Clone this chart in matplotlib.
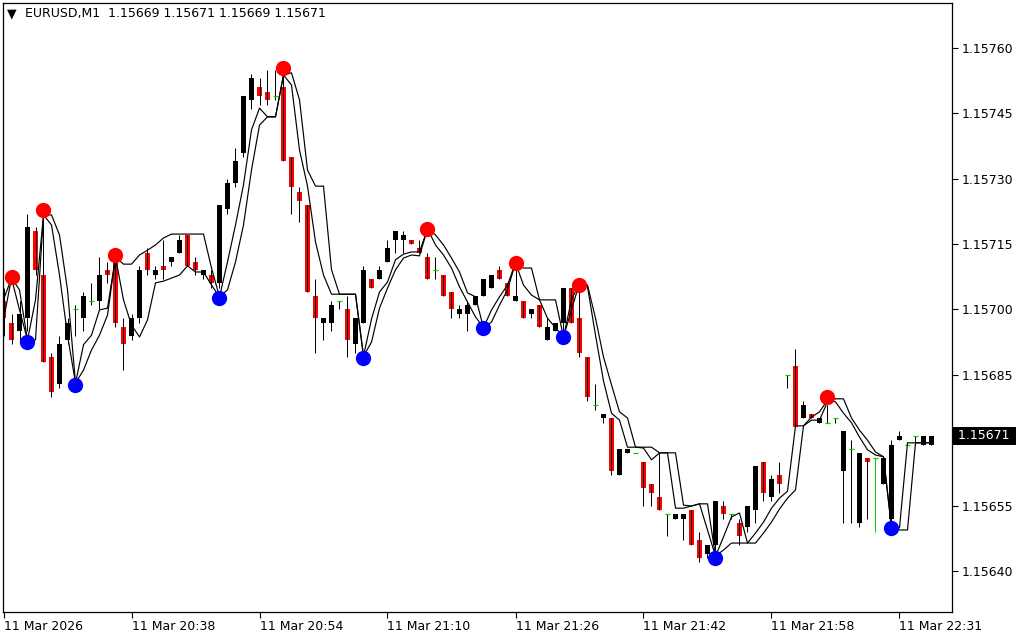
import matplotlib
matplotlib.use("Agg")
import matplotlib.pyplot as plt
from matplotlib.transforms import blended_transform_factory

# ---------------- data (EURUSD M1) ----------------
opens = [1.15702, 1.15697, 1.15695, 1.15698, 1.15718, 1.15708, 1.15689, 1.15683, 1.15693, 1.15700,
         1.15698, 1.15702, 1.15702, 1.15709, 1.15711, 1.15696, 1.15694, 1.15698, 1.15713, 1.15708,
         1.15710, 1.15711, 1.15713, 1.15717, 1.15711, 1.15708, 1.15708, 1.15706, 1.15723, 1.15729,
         1.15736, 1.15748, 1.15751, 1.15750, 1.15749, 1.15751, 1.15735, 1.15727, 1.15724, 1.15703,
         1.15697, 1.15697, 1.15702, 1.15700, 1.15692, 1.15697, 1.15707, 1.15707, 1.15711, 1.15716,
         1.15716, 1.15716, 1.15714, 1.15712, 1.15709, 1.15708, 1.15704, 1.15699, 1.15699, 1.15701,
         1.15703, 1.15705, 1.15709, 1.15706, 1.15702, 1.15702, 1.15699, 1.15701, 1.15693, 1.15695,
         1.15697, 1.15705, 1.15698, 1.15689, 1.15678, 1.15675, 1.15675, 1.15662, 1.15667, 1.15667,
         1.15665, 1.15660, 1.15657, 1.15653, 1.15652, 1.15652, 1.15654, 1.15647, 1.15644, 1.15646,
         1.15655, 1.15653, 1.15651, 1.15650, 1.15654, 1.15665, 1.15657, 1.15662, 1.15685, 1.15687,
         1.15675, 1.15676, 1.15674, 1.15674, 1.15675, 1.15663, 1.15668, 1.15651, 1.15666, 1.15666,
         1.15660, 1.15652, 1.15670, 1.15669, 1.15671, 1.15669, 1.15669]
highs = [1.15705, 1.15699, 1.15702, 1.15722, 1.15719, 1.15721, 1.15690, 1.15694, 1.15698, 1.15701,
         1.15704, 1.15706, 1.15712, 1.15711, 1.15712, 1.15698, 1.15699, 1.15710, 1.15714, 1.15710,
         1.15716, 1.15712, 1.15717, 1.15717, 1.15712, 1.15709, 1.15709, 1.15724, 1.15730, 1.15737,
         1.15749, 1.15754, 1.15753, 1.15755, 1.15755, 1.15754, 1.15735, 1.15728, 1.15724, 1.15707,
         1.15698, 1.15702, 1.15702, 1.15703, 1.15698, 1.15710, 1.15707, 1.15710, 1.15716, 1.15718,
         1.15718, 1.15716, 1.15716, 1.15713, 1.15712, 1.15708, 1.15704, 1.15701, 1.15702, 1.15703,
         1.15707, 1.15708, 1.15710, 1.15706, 1.15709, 1.15702, 1.15700, 1.15701, 1.15698, 1.15697,
         1.15705, 1.15705, 1.15704, 1.15689, 1.15683, 1.15676, 1.15675, 1.15668, 1.15668, 1.15667,
         1.15665, 1.15660, 1.15667, 1.15653, 1.15653, 1.15653, 1.15654, 1.15649, 1.15646, 1.15656,
         1.15656, 1.15653, 1.15652, 1.15655, 1.15664, 1.15665, 1.15662, 1.15665, 1.15685, 1.15691,
         1.15679, 1.15676, 1.15675, 1.15678, 1.15675, 1.15672, 1.15670, 1.15667, 1.15666, 1.15666,
         1.15666, 1.15670, 1.15672, 1.15669, 1.15671, 1.15671, 1.15671]
lows = [1.15694, 1.15692, 1.15693, 1.15695, 1.15708, 1.15688, 1.15680, 1.15682, 1.15692, 1.15694,
        1.15695, 1.15701, 1.15700, 1.15706, 1.15696, 1.15686, 1.15693, 1.15697, 1.15708, 1.15707,
        1.15707, 1.15710, 1.15713, 1.15710, 1.15708, 1.15707, 1.15705, 1.15705, 1.15722, 1.15728,
        1.15735, 1.15746, 1.15747, 1.15747, 1.15748, 1.15734, 1.15722, 1.15720, 1.15704, 1.15690,
        1.15693, 1.15695, 1.15700, 1.15689, 1.15690, 1.15697, 1.15705, 1.15707, 1.15711, 1.15713,
        1.15713, 1.15715, 1.15713, 1.15707, 1.15707, 1.15703, 1.15698, 1.15698, 1.15695, 1.15701,
        1.15703, 1.15705, 1.15707, 1.15703, 1.15702, 1.15698, 1.15698, 1.15696, 1.15693, 1.15695,
        1.15693, 1.15697, 1.15689, 1.15679, 1.15677, 1.15674, 1.15662, 1.15662, 1.15667, 1.15667,
        1.15655, 1.15655, 1.15654, 1.15648, 1.15652, 1.15647, 1.15646, 1.15642, 1.15643, 1.15643,
        1.15652, 1.15652, 1.15646, 1.15649, 1.15651, 1.15656, 1.15656, 1.15658, 1.15682, 1.15673,
        1.15675, 1.15675, 1.15674, 1.15674, 1.15674, 1.15651, 1.15651, 1.15650, 1.15652, 1.15649,
        1.15660, 1.15650, 1.15670, 1.15669, 1.15669, 1.15669, 1.15669]
closes = [1.15698, 1.15693, 1.15699, 1.15719, 1.15709, 1.15688, 1.15681, 1.15692, 1.15697, 1.15700,
          1.15703, 1.15702, 1.15708, 1.15708, 1.15697, 1.15692, 1.15698, 1.15709, 1.15709, 1.15709,
          1.15709, 1.15712, 1.15716, 1.15710, 1.15709, 1.15709, 1.15706, 1.15724, 1.15729, 1.15734,
          1.15749, 1.15753, 1.15749, 1.15748, 1.15749, 1.15734, 1.15728, 1.15725, 1.15704, 1.15698,
          1.15698, 1.15701, 1.15702, 1.15693, 1.15698, 1.15709, 1.15705, 1.15709, 1.15714, 1.15718,
          1.15717, 1.15715, 1.15713, 1.15707, 1.15709, 1.15703, 1.15700, 1.15700, 1.15701, 1.15703,
          1.15707, 1.15708, 1.15707, 1.15703, 1.15703, 1.15698, 1.15700, 1.15696, 1.15696, 1.15697,
          1.15705, 1.15697, 1.15690, 1.15680, 1.15678, 1.15676, 1.15663, 1.15668, 1.15668, 1.15667,
          1.15659, 1.15658, 1.15654, 1.15653, 1.15653, 1.15653, 1.15646, 1.15643, 1.15646, 1.15656,
          1.15653, 1.15653, 1.15648, 1.15655, 1.15664, 1.15658, 1.15661, 1.15660, 1.15685, 1.15673,
          1.15678, 1.15675, 1.15675, 1.15674, 1.15675, 1.15672, 1.15668, 1.15667, 1.15665, 1.15666,
          1.15666, 1.15669, 1.15671, 1.15669, 1.15671, 1.15671, 1.15671]

# indicator channel lines (two black lines)
line_a = [1.157022, 1.157072, 1.156999, 1.156930, 1.157022, 1.157217, 1.157194, 1.157079, 1.156941, 1.156831,
          1.156919, 1.156941, 1.156999, 1.157003, 1.157120, 1.157104, 1.157104, 1.157125, 1.157136, 1.157148,
          1.157164, 1.157173, 1.157173, 1.157173, 1.157173, 1.157173, 1.157095, 1.157029, 1.157109, 1.157194,
          1.157286, 1.157412, 1.157462, 1.157442, 1.157442, 1.157538, 1.157515, 1.157366, 1.157283, 1.157155,
          1.157079, 1.157035, 1.157035, 1.157035, 1.157035, 1.156893, 1.156978, 1.157040, 1.157063, 1.157114,
          1.157127, 1.157132, 1.157132, 1.157185, 1.157148, 1.157125, 1.157095, 1.157052, 1.157017, 1.156983,
          1.156958, 1.156999, 1.157029, 1.157056, 1.157107, 1.157056, 1.157033, 1.157022, 1.156980, 1.156958,
          1.156937, 1.157022, 1.157061, 1.157052, 1.156941, 1.156836, 1.156762, 1.156746, 1.156684, 1.156684,
          1.156684, 1.156684, 1.156671, 1.156671, 1.156544, 1.156544, 1.156549, 1.156554, 1.156494, 1.156434,
          1.156478, 1.156524, 1.156533, 1.156464, 1.156487, 1.156512, 1.156544, 1.156567, 1.156583, 1.156733,
          1.156733, 1.156753, 1.156765, 1.156792, 1.156788, 1.156762, 1.156740, 1.156707, 1.156678, 1.156666,
          1.156662, 1.156499, 1.156499, 1.156694, 1.156694, 1.156694, 1.156694]
line_b = [1.156976, 1.157072, 1.157045, 1.156930, 1.156930, 1.157217, 1.157217, 1.157171, 1.157045, 1.156831,
          1.156861, 1.156907, 1.156941, 1.156987, 1.157120, 1.157022, 1.156964, 1.156937, 1.156976, 1.157061,
          1.157065, 1.157072, 1.157079, 1.157100, 1.157086, 1.157086, 1.157056, 1.157029, 1.157045, 1.157109,
          1.157194, 1.157320, 1.157423, 1.157442, 1.157442, 1.157538, 1.157543, 1.157481, 1.157320, 1.157283,
          1.157283, 1.157091, 1.157035, 1.157035, 1.157035, 1.156893, 1.156925, 1.157003, 1.157049, 1.157091,
          1.157118, 1.157125, 1.157123, 1.157185, 1.157171, 1.157148, 1.157118, 1.157086, 1.157038, 1.157029,
          1.156958, 1.156971, 1.157010, 1.157045, 1.157107, 1.157095, 1.157095, 1.157022, 1.157022, 1.157022,
          1.156937, 1.156999, 1.157061, 1.157056, 1.156980, 1.156891, 1.156827, 1.156765, 1.156751, 1.156684,
          1.156682, 1.156655, 1.156671, 1.156671, 1.156671, 1.156551, 1.156549, 1.156554, 1.156554, 1.156434,
          1.156448, 1.156464, 1.156464, 1.156464, 1.156464, 1.156487, 1.156512, 1.156542, 1.156567, 1.156586,
          1.156733, 1.156746, 1.156746, 1.156788, 1.156795, 1.156795, 1.156751, 1.156723, 1.156700, 1.156673,
          1.156662, 1.156499, 1.156494, 1.156494, 1.156694, 1.156694, 1.156694]

swing_high_idx = [1, 5, 14, 35, 53, 64, 72, 103]
swing_high_val = [1.157075, 1.157228, 1.157125, 1.157555, 1.157185, 1.157107, 1.157056, 1.156798]
swing_low_idx = [3, 9, 27, 45, 60, 70, 89, 111]
swing_low_val = [1.156926, 1.156827, 1.157027, 1.156888, 1.156957, 1.156937, 1.156429, 1.156499]

green_wick_bars = [109]

price_ticks = [1.15640, 1.15655, 1.15670, 1.15685, 1.15700, 1.15715, 1.15730, 1.15745, 1.15760]
price_tick_labels = ["1.15640", "1.15655", "", "1.15685", "1.15700", "1.15715", "1.15730",
                     "1.15745", "1.15760"]
time_tick_idx = [0, 16, 32, 48, 64, 80, 96, 112]
time_tick_labels = ["11 Mar 2026", "11 Mar 20:38", "11 Mar 20:54", "11 Mar 21:10",
                    "11 Mar 21:26", "11 Mar 21:42", "11 Mar 21:58", "11 Mar 22:31"]
last_price = 1.15671
title_text = "EURUSD,M1  1.15669 1.15671 1.15669 1.15671"

# ---------------- figure ----------------
W, H = 1024, 640
fig = plt.figure(figsize=(W / 100, H / 100), dpi=100)
fig.patch.set_facecolor("white")
ax = fig.add_axes([3 / W, (H - 612) / H, (952 - 3) / W, (612 - 3) / H])
ax.set_facecolor("white")

RED = "#FF0000"
GREEN = "#00D000"
px = 0.72  # one pixel in points
body_w = 0.62

n = len(opens)
for i in range(n):
    o, h, l, c = opens[i], highs[i], lows[i], closes[i]
    wick_col = GREEN if i in green_wick_bars else "black"
    ax.vlines(i, l, h, color=wick_col, linewidth=px, zorder=3)
    if abs(c - o) < 1e-9:
        ax.hlines(o, i - body_w / 2, i + body_w / 2, color=GREEN, linewidth=px * 1.2, zorder=3.5)
    else:
        col = "black" if c > o else RED
        ax.bar(i, c - o, bottom=o, width=body_w, color=col, edgecolor="none",
               linewidth=0, zorder=2)

xs = list(range(n))
ax.plot(xs, line_a, color="black", linewidth=0.85, zorder=4)
ax.plot(xs, line_b, color="black", linewidth=0.85, zorder=4)

ax.plot(swing_high_idx, swing_high_val, "o", color=RED, markersize=11,
        markeredgewidth=0, zorder=6)
ax.plot(swing_low_idx, swing_low_val, "o", color="#0000FF", markersize=11,
        markeredgewidth=0, zorder=6)

ax.set_xlim(-0.0625, 118.5625)
ax.set_ylim(1.1563058, 1.1577032)

# axes styling
for s in ax.spines.values():
    s.set_color("black")
    s.set_linewidth(0.9)

ax.yaxis.tick_right()
ax.set_yticks(price_ticks)
ax.set_yticklabels(price_tick_labels)
ax.tick_params(axis="y", which="both", direction="out", length=4, width=0.8,
               pad=3, labelsize=9, colors="black", left=False, right=True)
ax.set_xticks(time_tick_idx)
ax.set_xticklabels(time_tick_labels)
ax.tick_params(axis="x", which="both", direction="out", length=4, width=0.8,
               pad=2, labelsize=9, colors="black")
for lab in ax.get_xticklabels():
    lab.set_horizontalalignment("left")

# current price label
trans = blended_transform_factory(ax.transAxes, ax.transData)
ax.text(1.0 + 2 / 949, last_price, " 1.15671 ", transform=trans, ha="left", va="center",
        color="white", fontsize=9, zorder=10, clip_on=False,
        bbox=dict(facecolor="black", edgecolor="none", pad=1.6))

# header
fig.text(7 / W, 1 - 14 / H, "\u25BC", fontsize=9, va="center", ha="left", color="black")
fig.text(25 / W, 1 - 14 / H, title_text, fontsize=9, va="center", ha="left", color="black")

fig.savefig("out.png", dpi=100, facecolor="white")
